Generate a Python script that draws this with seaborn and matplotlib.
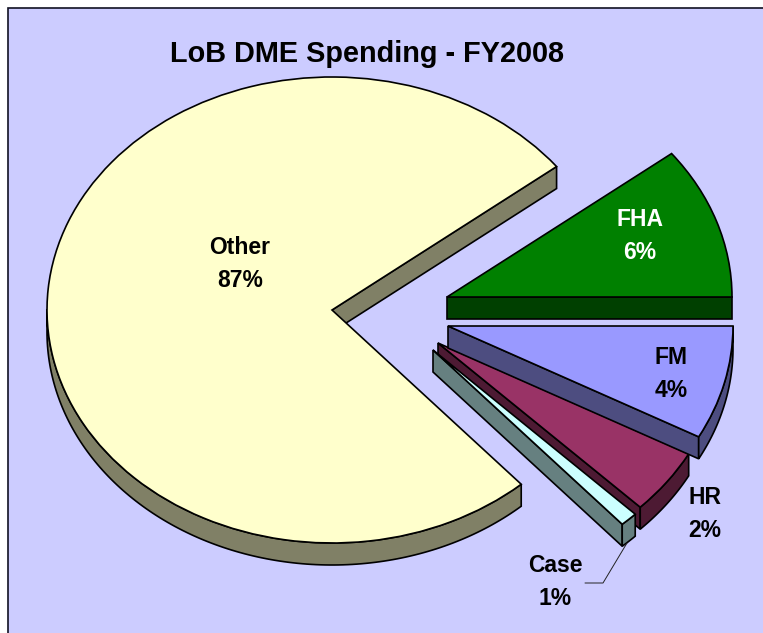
import matplotlib
matplotlib.use('Agg')
import matplotlib.pyplot as plt
from matplotlib.patches import Polygon, Rectangle
import numpy as np
import seaborn as sns

# slices in drawing order, counterclockwise from 3 o'clock
categories = ['FHA', 'Other', 'Case', 'HR', 'FM']
percent_labels = [6, 87, 1, 2, 4]
# the sweep each slice really has in the picture, it does not follow the labels
drawn_sweep = [38, 273.6, 3.6, 16.4, 28.4]

top_colors = ['#008000', '#FFFFCC', '#CCFFFF', '#993366', '#9999FF']
wall_colors = ['#004000', '#808066', '#668080', '#4D1A33', '#4D4D80']

W, H = 763, 633
RX, RY = 285, 233
DEPTH = 22
K = RX / RY

# apex of each slice and label place, in picture pixels
apex_px = {'FHA': (447, 297), 'Other': (332, 310), 'Case': (433, 350), 'HR': (438, 343), 'FM': (448, 326)}
label_px = {'FHA': (640, 236), 'Other': (240, 264), 'Case': (555, 582), 'HR': (705, 514), 'FM': (671, 374)}
stack = ['Other', 'HR', 'Case', 'FM', 'FHA']


def to_data(x, y):
    return x, (H - y) * K


def draw_walls(wedge, color, z):
    cx, cy = wedge.center
    t = np.radians(np.linspace(wedge.theta1, wedge.theta2, 300))
    arc = np.column_stack([cx + wedge.r * np.cos(t), cy + wedge.r * np.sin(t)])
    drop = np.array([0, DEPTH * K])
    apex = np.array([cx, cy])
    # a face shows when its outline runs rightwards on a counterclockwise path
    right = np.diff(arc[:, 0]) > 0
    faces = [np.array([apex, arc[0]]), np.array([arc[-1], apex])]
    if right.any():
        faces.append(arc[np.append(right, False) | np.insert(right, 0, False)])
    for face in faces:
        if face[-1, 0] <= face[0, 0]:
            continue
        ax.add_patch(Polygon(np.vstack([face, (face - drop)[::-1]]), closed=True, facecolor=color,
                             edgecolor='black', linewidth=1.2, zorder=z))


sns.set_theme(style='white')
plt.rcParams['font.family'] = ['Liberation Sans', 'DejaVu Sans']

fig = plt.figure(figsize=(W / 100, H / 100), dpi=100, facecolor='white')
ax = fig.add_axes([0, 0, 1, 1])
wedges, _ = ax.pie(drawn_sweep, colors=top_colors, startangle=0, counterclock=True, radius=RX,
                   wedgeprops={'edgecolor': 'black', 'linewidth': 1.2})
ax.set_aspect('auto')
ax.set_xlim(0, W)
ax.set_ylim(0, H * K)
ax.axis('off')

# panel behind the chart, it runs off the right and bottom of the picture
ax.add_patch(Rectangle(to_data(8, 660), 800, 652 * K, facecolor='#CCCCFF', edgecolor='#111122',
                       linewidth=1.2, zorder=0))

for wedge, name, wall in zip(wedges, categories, wall_colors):
    z = 2 + 2 * stack.index(name)
    wedge.set_center(to_data(*apex_px[name]))
    wedge.set_zorder(z + 1)
    draw_walls(wedge, wall, z)

for name, pct in zip(categories, percent_labels):
    x, y = to_data(*label_px[name])
    ax.text(x, y, f'{name}\n{pct}%', ha='center', va='center', fontsize=16.5, fontweight='bold',
            color='white' if name == 'FHA' else 'black', linespacing=1.57, zorder=20)

# leader of the Case label
ax.plot(*zip(to_data(627, 543), to_data(603, 583), to_data(585, 583)), color='#222222', linewidth=0.7, zorder=20)

x, y = to_data(366.5, 62)
ax.text(x, y, 'LoB DME Spending - FY2008', ha='center', va='baseline', fontsize=20.8, fontweight='bold',
        color='black', zorder=20)

fig.savefig('out.png', dpi=100)
